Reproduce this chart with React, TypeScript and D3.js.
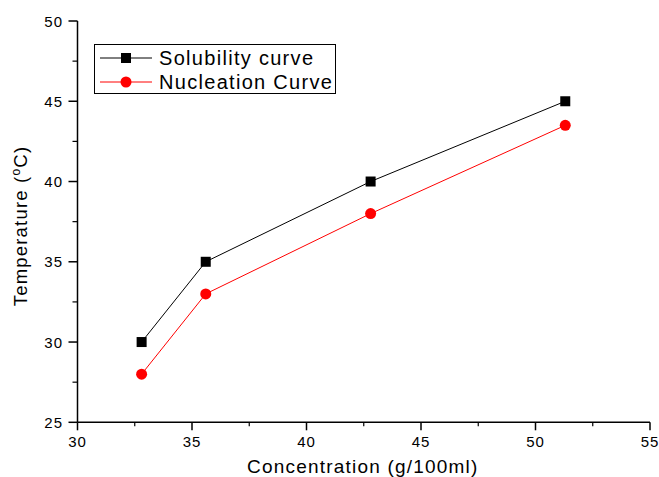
import React from "react";
import * as d3 from "d3";

const concentration = [32.8, 35.6, 42.8, 51.3];
const solubility = [30, 35, 40, 45];
const nucleation = [28, 33, 38, 43.5];
const xTicks = [30, 35, 40, 45, 50, 55];
const yTicks = [25, 30, 35, 40, 45, 50];
const seriesNames = ["Solubility curve", "Nucleation Curve"];

const W = 659, H = 477;
const L = 77.5, R = 650, T = 21, B = 422.3;

export default function App() {
  const x = d3.scaleLinear().domain([30, 55]).range([L, R]);
  const y = d3.scaleLinear().domain([25, 50]).range([B, T]);
  const mk = (vals: number[]) =>
    d3.line<number>().x((_, i) => x(concentration[i])).y((d) => y(d))(vals) || "";
  const solPath = mk(solubility);
  const nucPath = mk(nucleation);
  const xMinor = d3.range(32.5, 55, 5);
  const yMinor = d3.range(27.5, 50, 5);
  const font = "Arial, 'Liberation Sans', sans-serif";
  return (
    <svg width={W} height={H} style={{ position: "absolute", left: 0, top: 0 }} fontFamily={font}>
      <rect width={W} height={H} fill="#fff" />
      {/* axes */}
      <line x1={L} x2={L} y1={T} y2={B} stroke="#000" strokeWidth={1.5} />
      <line x1={L} x2={R} y1={B} y2={B} stroke="#000" strokeWidth={1.5} />
      {xTicks.map((t) => (
        <g key={"xt" + t}>
          <line x1={x(t)} x2={x(t)} y1={B} y2={B + 8} stroke="#000" strokeWidth={1.5} />
          <text x={x(t)} y={B + 24.5} fontSize={15} textAnchor="middle" letterSpacing={1}>{t}</text>
        </g>
      ))}
      {xMinor.map((t) => (
        <line key={"xm" + t} x1={x(t)} x2={x(t)} y1={B} y2={B + 4} stroke="#000" strokeWidth={1.2} />
      ))}
      {yTicks.map((t) => (
        <g key={"yt" + t}>
          <line x1={L - 9} x2={L} y1={y(t)} y2={y(t)} stroke="#000" strokeWidth={1.5} />
          <text x={L - 14.5} y={y(t) + 5.5} fontSize={15} textAnchor="end" letterSpacing={1}>{t}</text>
        </g>
      ))}
      {yMinor.map((t) => (
        <line key={"ym" + t} x1={L - 5} x2={L} y1={y(t)} y2={y(t)} stroke="#000" strokeWidth={1.2} />
      ))}
      {/* axis titles */}
      <text x={(L + R) / 2 - 1} y={472.5} fontSize={19} textAnchor="middle" letterSpacing={1.2}>Concentration (g/100ml)</text>
      <text transform={`translate(27, 226) rotate(-90)`} fontSize={18.5} textAnchor="middle" letterSpacing={1.2}>
        Temperature (<tspan fontSize={12} dy={-7}>o</tspan><tspan dy={7}>C)</tspan>
      </text>
      {/* series */}
      <path d={solPath} fill="none" stroke="#000" strokeWidth={1} />
      <path d={nucPath} fill="none" stroke="#f00" strokeWidth={1} />
      {solubility.map((v, i) => (
        <rect key={"s" + i} x={x(concentration[i]) - 5} y={y(v) - 5} width={10} height={10} fill="#000" />
      ))}
      {nucleation.map((v, i) => (
        <circle key={"n" + i} cx={x(concentration[i])} cy={y(v)} r={5.5} fill="#f00" />
      ))}
      {/* legend */}
      <rect x={94.5} y={44.5} width={241} height={49} fill="#fff" stroke="#000" strokeWidth={1} />
      <line x1={100} x2={152} y1={58} y2={58} stroke="#000" strokeWidth={1} />
      <rect x={121} y={53} width={10} height={10} fill="#000" />
      <text x={159} y={65} fontSize={20} letterSpacing={1.3}>{seriesNames[0]}</text>
      <line x1={100} x2={152} y1={82} y2={82} stroke="#f00" strokeWidth={1} />
      <circle cx={126} cy={82} r={5.5} fill="#f00" />
      <text x={159} y={89} fontSize={20} letterSpacing={1.3}>{seriesNames[1]}</text>
    </svg>
  );
}
